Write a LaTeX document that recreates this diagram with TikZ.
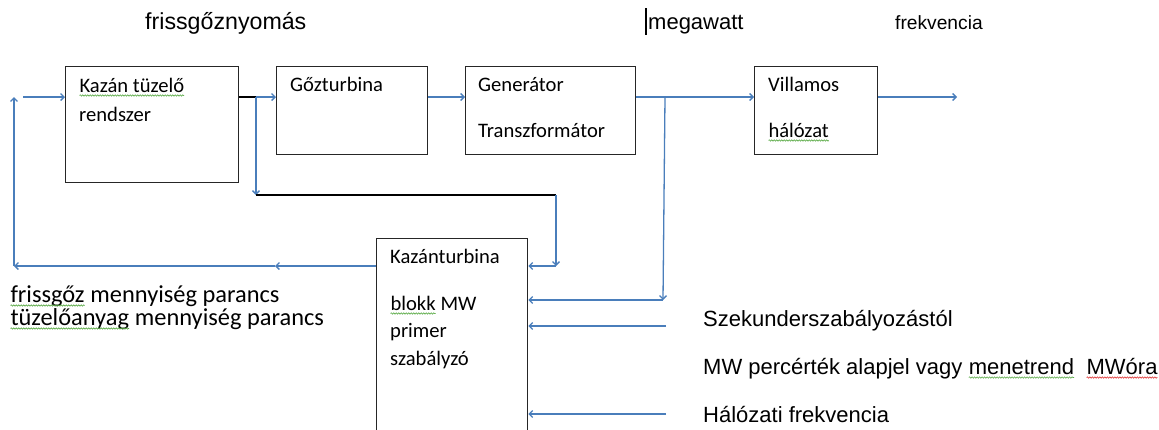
\documentclass[tikz,border=0pt]{standalone}
\usepackage{fontspec}
\setmainfont{Carlito}
\newfontfamily\arial{Liberation Sans}
\usetikzlibrary{arrows.meta,decorations.pathmorphing}
\definecolor{lblue}{RGB}{74,126,187}
\definecolor{sgreen}{RGB}{90,170,70}
\definecolor{sred}{RGB}{220,40,40}
\newcommand\wavyu[2]{\tikz[baseline=(wv.base)]{\node[inner sep=0pt,outer sep=0pt](wv){#2};\draw[#1,line width=0.6pt,decorate,decoration={snake,amplitude=0.7pt,segment length=2.5pt}] ([yshift=-3.5pt]wv.base west) -- ([yshift=-3.5pt]wv.base east);}}
\begin{document}
\begin{tikzpicture}[x=1pt,y=-1pt,
 box/.style={draw=black!85,line width=1.3pt,inner sep=0pt,anchor=north west},
 conn/.style={draw=lblue,line width=1.3pt},
 arr/.style={conn,-{Straight Barb[length=3.5pt,width=7pt]}},
 blk/.style={draw=black,line width=1.1pt},
 btxt/.style={anchor=base west,inner sep=0pt,font=\fontsize{20.6}{24}\selectfont},
 ltxt/.style={anchor=base west,inner sep=0pt,font=\fontsize{24.4}{28}\selectfont},
 atxt/.style={anchor=base west,inner sep=0pt,font=\arial\fontsize{22}{26}\selectfont},
]
\useasboundingbox (0,0) rectangle (1159,429);
\clip (0,0) rectangle (1159,429);

% boxes
\node[box,minimum width=173pt,minimum height=116pt] (kazan) at (65,66) {};
\node[box,minimum width=151pt,minimum height=88pt] (goz) at (276,66) {};
\node[box,minimum width=170pt,minimum height=88pt] (gen) at (465,66) {};
\node[box,minimum width=123pt,minimum height=88pt] (vill) at (754,66) {};
\node[box,minimum width=151pt,minimum height=200pt] (kt) at (376,238) {};

% box texts
\node[btxt] (t1) at (79,92) {\wavyu{sgreen}{Kazán tüzelő}};
\node[btxt] (t2) at (79,121) {rendszer};
\node[btxt] (t3) at (290,91) {Gőzturbina};
\node[btxt] (t4) at (478,91) {Generátor};
\node[btxt] (t5) at (478,137) {Transzformátor};
\node[btxt] (t6) at (768,91) {Villamos};
\node[btxt] (t7) at (768,137) {\wavyu{sgreen}{hálózat}};
\node[btxt] (t8) at (390,263) {Kazánturbina};
\node[btxt] (t9) at (390,310) {\wavyu{sgreen}{blokk} MW};
\node[btxt] (t10) at (390,337) {primer};
\node[btxt] (t11) at (390,365) {szabályzó};

% free texts
\node[anchor=base west,inner sep=0pt,font=\arial\fontsize{23.2}{27}\selectfont] (tp1) at (145,29) {frissgőznyomás};
\node[atxt] (tp2) at (648,29) {megawatt};
\node[anchor=base west,inner sep=0pt,font=\arial\fontsize{19.2}{23}\selectfont] (tp3) at (895,29) {frekvencia};
\coordinate (cur1) at (646,8);
\coordinate (cur2) at (646,35);
\draw[black,line width=2pt] (cur1) -- (cur2);
\node[ltxt] (fl1) at (10,302) {\wavyu{sgreen}{frissgőz} mennyiség parancs};
\node[ltxt] (fl2) at (10,325) {\wavyu{sgreen}{tüzelőanyag} mennyiség parancs};
\node[atxt] (r1) at (703,326) {Szekunderszabályozástól};
\node[atxt] (r2) at (703,374) {MW percérték alapjel vagy \wavyu{sgreen}{menetrend}\hspace*{12pt}\wavyu{sred}{MWóra}};
\node[atxt] (r3) at (703,422) {Hálózati frekvencia};

% connectors
\coordinate (inL) at (23,97);
\draw[arr] (inL) -- (inL -| kazan.west);
\coordinate (j1) at (256,97);
\draw[blk] (kazan.east |- j1) -- (j1);
\draw[arr] (j1) -- (j1 -| goz.west);
\coordinate (j2) at (256,195);
\draw[arr] (j1) -- (j2);
\coordinate (j3) at (556,195);
\draw[blk] (j2) -- (j3);
\coordinate (j4) at (556,266);
\draw[arr] (j3) -- (j4);
\draw[arr] (j4) -- (j4 -| kt.east);
\draw[arr] (goz.east |- j1) -- (gen.west |- j1);
\coordinate (j5) at (665,97);
\draw[arr] (gen.east |- j5) -- (vill.west |- j5);
\coordinate (j6) at (663,300);
\draw[arr] (j5) -- (j6);
\draw[arr] (j6) -- (j6 -| kt.east);
\coordinate (out) at (957,97);
\draw[arr] (vill.east |- out) -- (out);
\coordinate (m1) at (275,266);
\coordinate (c1) at (14,266);
\coordinate (c2) at (14,97);
\draw[arr] (kt.west |- m1) -- (m1);
\draw[arr] (m1) -- (c1);
\draw[arr] (c1) -- (c2);
\coordinate (s1) at (666,326);
\coordinate (s3) at (666,414);
\draw[arr] (s1) -- (s1 -| kt.east);
\draw[arr] (s3) -- (s3 -| kt.east);
\end{tikzpicture}
\end{document}
